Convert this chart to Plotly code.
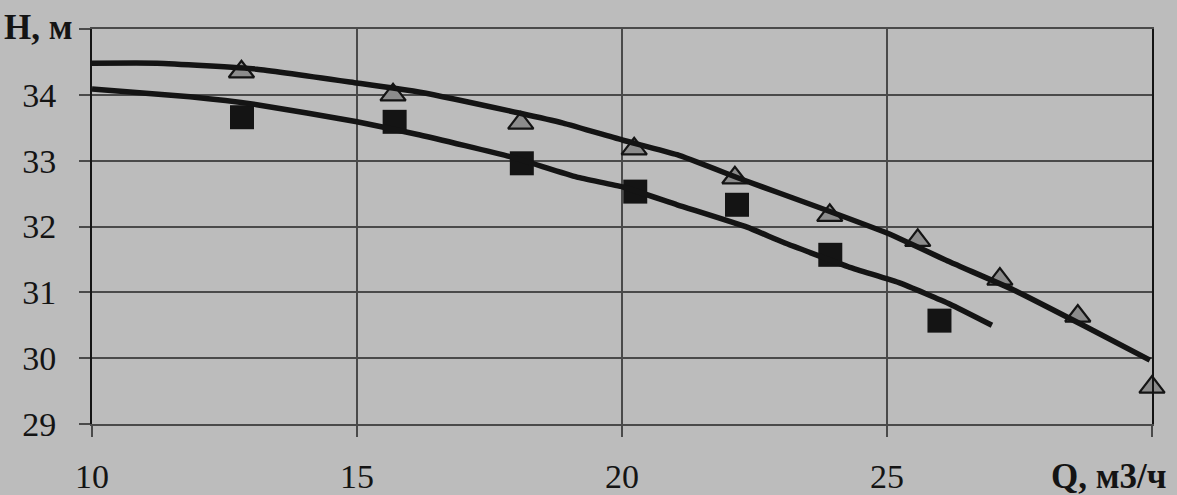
import plotly.graph_objects as go

# Measured points: head H (m) against flow Q (m3/h)
q_tri = [12.82, 15.68, 18.09, 20.23, 22.13, 23.92, 25.58, 27.13, 28.60, 30.0]
h_tri = [34.35, 34.00, 33.57, 33.18, 32.74, 32.17, 31.79, 31.20, 30.64, 29.56]

q_sq = [12.83, 15.71, 18.11, 20.25, 22.17, 23.93, 25.99]
h_sq = [33.66, 33.59, 32.96, 32.53, 32.33, 31.57, 30.57]

# Approximating curves
q_upper = [10.0, 11.23, 13.11, 15.0, 16.19, 18.08, 18.89, 20.02, 21.04, 22.28,
           23.68, 25.0, 26.19, 27.38, 28.70, 29.96]
h_upper = [34.48, 34.48, 34.39, 34.18, 34.04, 33.72, 33.57, 33.31, 33.09, 32.71,
           32.30, 31.90, 31.46, 31.04, 30.50, 29.97]

q_lower = [10.0, 11.85, 13.11, 15.0, 16.19, 17.89, 19.15, 20.02, 21.04, 22.36,
           23.04, 24.30, 25.25, 26.19, 26.98]
h_lower = [34.09, 33.97, 33.85, 33.59, 33.39, 33.06, 32.75, 32.60, 32.33, 31.99,
           31.76, 31.38, 31.14, 30.82, 30.50]

x_tick_vals = [10, 15, 20, 25, 30]
x_tick_text = ["10", "15", "20", "25", ""]
y_tick_vals = [29, 30, 31, 32, 33, 34, 35]
y_tick_text = ["29", "30", "31", "32", "33", "34", ""]

BG = "#bcbcbc"
INK = "#141414"
GRID = "#4a4a4a"
FONT = "Liberation Serif"
FS = 34

fig = go.Figure()

fig.add_trace(go.Scatter(
    x=q_sq, y=h_sq, mode="markers", cliponaxis=False,
    marker=dict(symbol="square", size=24, color=INK, line=dict(width=0)),
    showlegend=False, hoverinfo="skip",
))
fig.add_trace(go.Scatter(
    x=q_tri, y=h_tri, mode="markers", cliponaxis=False,
    marker=dict(symbol="triangle-up", size=22, color="#8c8c8c",
                line=dict(width=2.2, color=INK)),
    showlegend=False, hoverinfo="skip",
))
fig.add_trace(go.Scatter(
    x=q_upper, y=h_upper, mode="lines", cliponaxis=False,
    line=dict(color=INK, width=5.5, shape="spline", smoothing=0.4),
    showlegend=False, hoverinfo="skip",
))
fig.add_trace(go.Scatter(
    x=q_lower, y=h_lower, mode="lines", cliponaxis=False,
    line=dict(color=INK, width=5.5, shape="spline", smoothing=0.4),
    showlegend=False, hoverinfo="skip",
))

fig.update_layout(
    width=1177, height=495,
    margin=dict(l=92, r=25, t=29, b=71),
    paper_bgcolor=BG, plot_bgcolor=BG,
    font=dict(family=FONT, size=FS, color=INK),
    xaxis=dict(
        range=[10, 30], tickmode="array", automargin=False,
        tickvals=x_tick_vals, ticktext=x_tick_text,
        showgrid=True, gridcolor=GRID, gridwidth=1.5,
        zeroline=False,
        showline=True, linecolor=GRID, linewidth=1.5, mirror=True,
        ticks="outside", ticklen=11, tickwidth=1.5, tickcolor=GRID,
        ticklabelstandoff=10,
        tickfont=dict(family=FONT, size=FS, color=INK),
    ),
    yaxis=dict(
        range=[29, 35], tickmode="array", automargin=False,
        tickvals=y_tick_vals, ticktext=y_tick_text,
        showgrid=True, gridcolor=GRID, gridwidth=1.5,
        zeroline=False,
        showline=True, linecolor=INK, linewidth=2, mirror=True,
        ticks="outside", ticklen=11, tickwidth=1.5, tickcolor=GRID,
        ticklabelstandoff=16,
        tickfont=dict(family=FONT, size=FS, color=INK),
    ),
    annotations=[
        dict(text="<b>H, м</b>", xref="paper", yref="paper",
             x=-0.016, y=1.005, xanchor="right", yanchor="middle",
             showarrow=False, font=dict(family=FONT, size=35, color=INK)),
        dict(text="<b>Q, м3/ч</b>", xref="paper", yref="paper",
             x=1.016, y=-0.134, xanchor="right", yanchor="middle",
             showarrow=False, font=dict(family=FONT, size=35, color=INK)),
    ],
)

fig.write_html("out.html")
